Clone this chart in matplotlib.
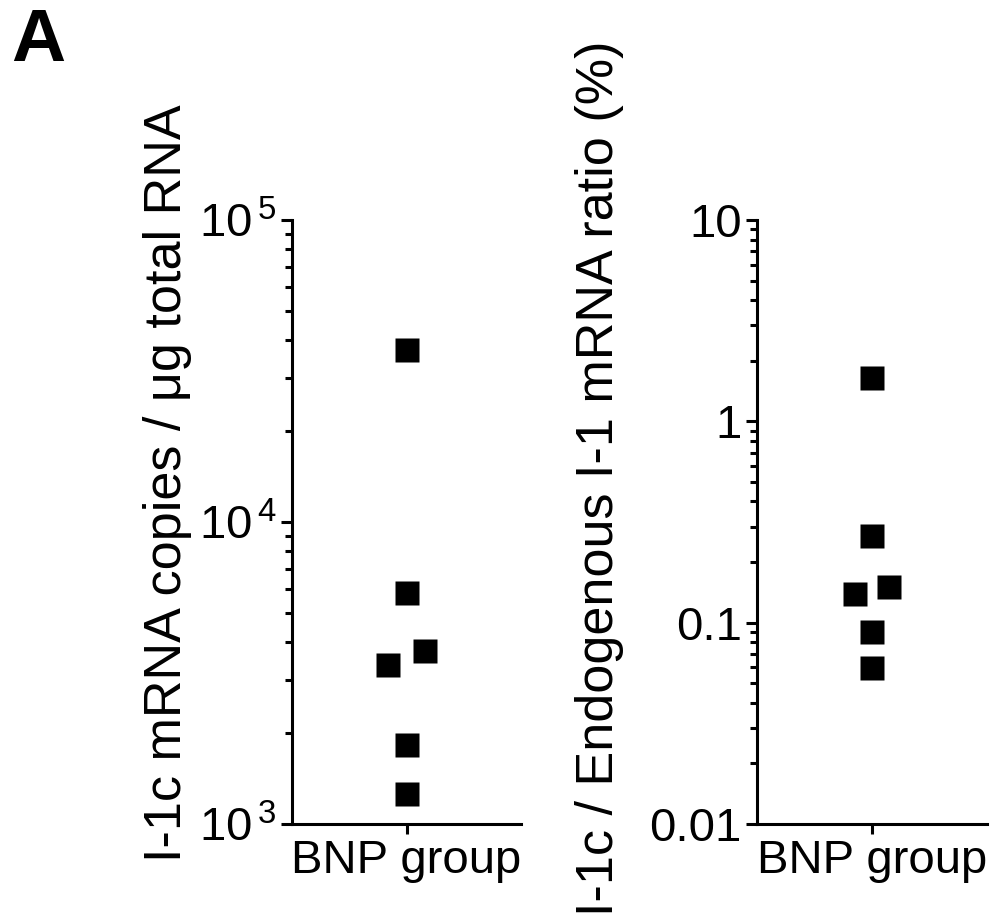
import numpy as np
import matplotlib
matplotlib.use("Agg")
import matplotlib.pyplot as plt

plt.rcParams["font.family"] = ["Liberation Sans", "DejaVu Sans"]
plt.rcParams["mathtext.fontset"] = "custom"
plt.rcParams["mathtext.rm"] = "Liberation Sans"
plt.rcParams["mathtext.default"] = "regular"

# I-1c copies per ug total RNA (BNP group)
copies = [37200, 5830, 3740, 3350, 1820, 1260]
copies_dx = [0, 0, 0.16, -0.16, 0, 0]

# I-1c / endogenous I-1 ratio (%)
ratio = [1.64, 0.268, 0.150, 0.139, 0.0896, 0.0597]
ratio_dx = [0, 0, 0.15, -0.15, 0, 0]

group = "BNP group"
left_ticks = [1e3, 1e4, 1e5]
left_ticklabels = [r"$10^{\,3}$", r"$10^{\,4}$", r"$10^{\,5}$"]
right_ticks = [0.01, 0.1, 1, 10]
right_ticklabels = ["0.01", "0.1", "1", "10"]

W, H = 998, 917
fig = plt.figure(figsize=(W / 100, H / 100), dpi=100)

def px_axes(x0, x1, y0, y1):
  return fig.add_axes([x0 / W, 1 - y1 / H, (x1 - x0) / W, (y1 - y0) / H])

def style(ax, ticks, labels, lo, hi):
  ax.set_yscale("log")
  ax.set_ylim(lo, hi)
  ax.set_xlim(-1, 1)
  ax.set_yticks(ticks)
  ax.set_yticklabels(labels)
  ax.set_xticks([0])
  ax.set_xticklabels([group])
  for s in ["top", "right"]:
    ax.spines[s].set_visible(False)
  for s in ["left", "bottom"]:
    ax.spines[s].set_linewidth(2.2)
  ax.tick_params(axis="y", which="major", length=8, width=2.2, labelsize=34, pad=3)
  ax.tick_params(axis="y", which="minor", length=5, width=2.2)
  ax.tick_params(axis="x", length=7, width=2.2, labelsize=34, pad=4)

ax1 = px_axes(292, 521, 220, 824)
ax1.plot(np.array(copies_dx), copies, "s", color="black", ms=17, mec="none", clip_on=False)
style(ax1, left_ticks, left_ticklabels, 1e3, 1e5)

ax2 = px_axes(757, 987, 220, 824)
ax2.plot(np.array(ratio_dx), ratio, "s", color="black", ms=17, mec="none", clip_on=False)
style(ax2, right_ticks, right_ticklabels, 0.01, 10)

fig.text(168 / W, 1 - 483 / H, "I-1c mRNA copies / \u03bcg total RNA", rotation=90,
         ha="center", va="center", fontsize=37.5)
fig.text(600 / W, 1 - 478 / H, "I-1c / Endogenous I-1 mRNA ratio (%)", rotation=90,
         ha="center", va="center", fontsize=37.5)
fig.text(11 / W, 1 - 61 / H, "A", fontsize=54, fontweight="bold", ha="left", va="baseline")

fig.savefig("out.png", dpi=100)
